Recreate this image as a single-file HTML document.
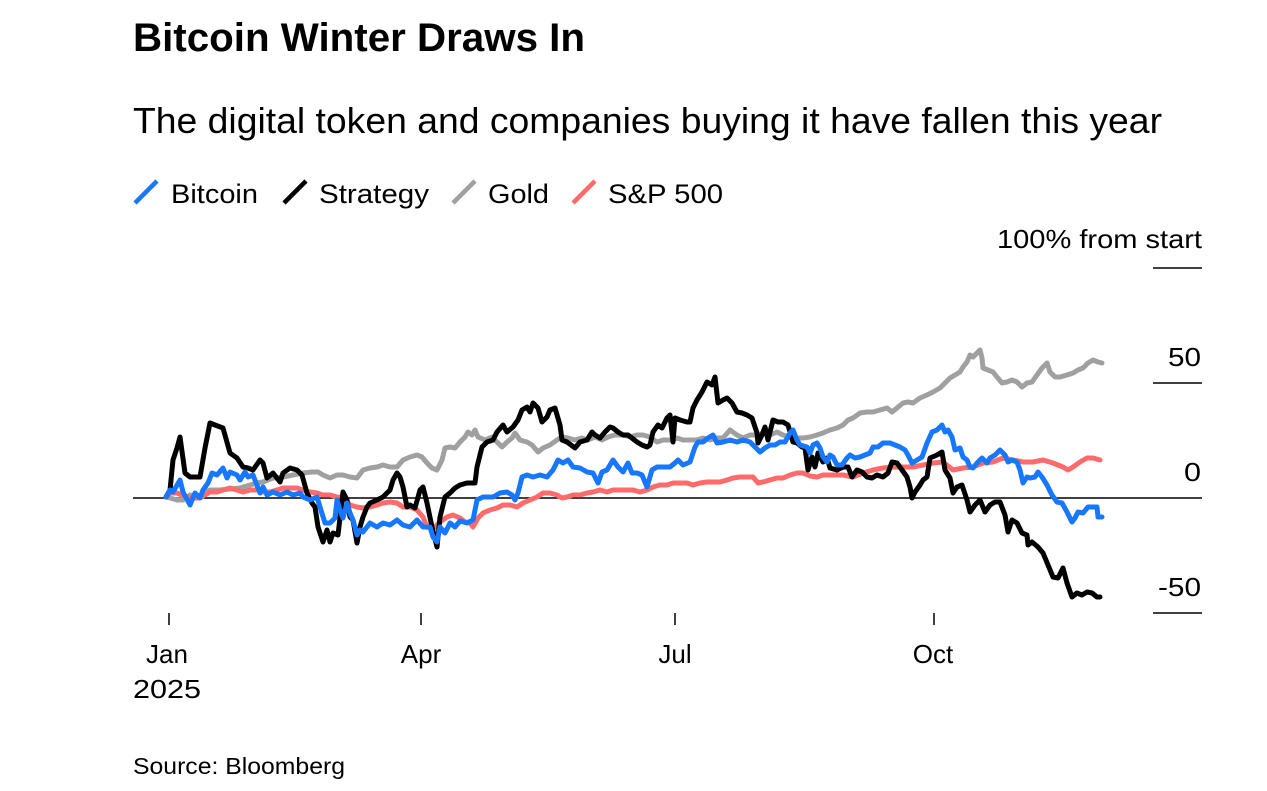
<!DOCTYPE html>
<html><head><meta charset="utf-8"><style>
html,body{margin:0;padding:0;background:#fff;}
svg{display:block;font-family:"Liberation Sans",Arial,sans-serif;}
</style></head><body>
<svg width="1267" height="791" viewBox="0 0 1267 791" xmlns="http://www.w3.org/2000/svg">
<rect width="1267" height="791" fill="#fff"/>
<text x="133" y="51" font-size="40" font-weight="bold" textLength="452" lengthAdjust="spacingAndGlyphs" fill="#000">Bitcoin Winter Draws In</text>
<text x="133" y="133" font-size="36" textLength="1029" lengthAdjust="spacingAndGlyphs" fill="#000">The digital token and companies buying it have fallen this year</text>
<g stroke-width="4.5" stroke-linecap="butt">
<line x1="135" y1="203" x2="157" y2="181" stroke="#1778ff"/>
<line x1="284" y1="203" x2="306" y2="181" stroke="#000"/>
<line x1="453" y1="203" x2="475" y2="181" stroke="#a0a0a0"/>
<line x1="573" y1="203" x2="595" y2="181" stroke="#ff6b6b"/>
</g>
<g font-size="27" fill="#000">
<text x="171" y="203" textLength="87" lengthAdjust="spacingAndGlyphs">Bitcoin</text>
<text x="319" y="203" textLength="110" lengthAdjust="spacingAndGlyphs">Strategy</text>
<text x="488" y="203" textLength="61" lengthAdjust="spacingAndGlyphs">Gold</text>
<text x="608" y="203" textLength="115" lengthAdjust="spacingAndGlyphs">S&amp;P 500</text>
</g>
<g font-size="26" fill="#000">
<text x="997" y="248" textLength="205" lengthAdjust="spacingAndGlyphs">100% from start</text>
<text x="1168" y="366" textLength="33" lengthAdjust="spacingAndGlyphs">50</text>
<text x="1184" y="481" textLength="17" lengthAdjust="spacingAndGlyphs">0</text>
<text x="1158" y="596" textLength="43" lengthAdjust="spacingAndGlyphs">-50</text>
</g>
<g stroke="#000" stroke-width="1.5">
<line x1="1153" y1="268" x2="1202" y2="268"/>
<line x1="1153" y1="383" x2="1202" y2="383"/>
<line x1="1153" y1="613" x2="1202" y2="613"/>
<line x1="133" y1="498" x2="1202" y2="498" stroke-width="1.4"/>
<line x1="169" y1="613" x2="169" y2="625"/>
<line x1="421" y1="613" x2="421" y2="625"/>
<line x1="675" y1="613" x2="675" y2="625"/>
<line x1="934" y1="613" x2="934" y2="625"/>
</g>
<g font-size="26" fill="#000" text-anchor="middle">
<text x="167" y="663">Jan</text>
<text x="421" y="663">Apr</text>
<text x="675" y="663">Jul</text>
<text x="933" y="663">Oct</text>
</g>
<text x="133" y="698" font-size="26" textLength="68" lengthAdjust="spacingAndGlyphs" fill="#000">2025</text>
<text x="133" y="774" font-size="23" textLength="212" lengthAdjust="spacingAndGlyphs" fill="#000">Source: Bloomberg</text>
<g fill="none" stroke-width="5" stroke-linejoin="round" stroke-linecap="round">
<polyline stroke="#a0a0a0" points="166,497 170,498 177,500 183,500 190,495 197,498 203,493 210,490 220,490 230,489 240,488 250,485 257,483 263,482 273,478 283,477 293,475 303,473 312,472 318,472 323,475 330,478 337,475 343,475 350,477 357,478 363,470 370,468 377,467 383,465 390,467 397,467 403,460 410,457 417,455 422,457 427,463 432,468 437,470 442,460 445,448 450,447 455,448 460,442 465,437 468,432 472,435 475,430 478,437 485,440 492,437 497,442 502,447 507,442 512,438 515,433 520,440 527,442 532,445 538,452 543,448 550,445 557,440 562,437 568,438 575,440 582,438 588,440 595,437 602,440 608,437 615,435 623,435 630,437 637,435 643,435 650,437 657,442 663,440 670,440 677,438 683,440 690,440 697,440 703,438 710,440 717,438 723,438 730,430 737,435 743,438 750,435 757,435 763,433 770,435 777,432 783,435 790,437 797,438 803,438 810,437 817,435 823,433 830,430 837,428 843,425 848,420 853,418 860,413 867,412 873,412 880,410 887,408 892,412 897,408 903,403 908,402 913,403 920,398 927,395 933,392 940,388 945,383 950,378 955,375 960,372 963,367 967,362 970,355 973,357 977,353 980,350 982,358 983,368 988,370 993,372 997,377 1002,383 1007,382 1012,380 1017,382 1022,387 1027,383 1032,382 1037,375 1042,368 1047,363 1050,372 1055,377 1060,377 1067,375 1073,373 1078,370 1083,368 1088,363 1093,360 1098,362 1102,363"/>
<polyline stroke="#ff6b6b" points="166,497 170,493 177,493 182,495 187,497 193,498 200,498 205,495 210,492 217,492 223,490 230,488 237,490 243,492 250,490 257,490 263,492 270,492 277,490 283,488 290,488 297,488 303,490 310,492 317,493 323,495 330,495 337,497 343,498 350,505 357,507 363,508 370,507 377,505 383,503 390,502 397,503 403,507 410,507 417,510 423,517 427,527 430,528 435,527 440,522 447,517 453,515 460,518 465,522 470,523 473,527 478,518 483,513 490,510 497,508 503,505 510,505 517,507 523,503 530,500 537,497 543,493 550,493 557,495 562,498 567,497 573,495 580,495 587,493 593,492 600,490 607,492 613,490 620,490 627,490 633,490 640,492 647,490 653,487 660,485 667,485 673,483 680,483 687,483 693,485 700,483 707,482 713,482 720,482 727,480 733,478 740,477 747,477 753,477 758,483 763,482 770,480 777,478 783,478 790,475 797,473 803,473 810,476 817,477 823,475 833,475 843,475 853,477 863,473 873,470 883,468 893,467 903,467 913,467 923,465 933,463 943,462 953,470 963,468 973,467 983,463 993,462 1003,458 1013,460 1023,462 1033,462 1043,460 1053,463 1063,467 1068,470 1073,467 1080,462 1087,458 1093,458 1100,460"/>
<polyline stroke="#000" points="166,497 170,490 173,460 177,448 180,437 185,473 190,477 200,477 205,448 210,423 215,425 223,428 230,453 237,458 243,467 248,468 253,470 260,460 263,463 267,478 273,473 280,482 283,473 290,468 297,470 302,475 307,493 312,503 315,507 318,527 323,542 327,530 330,542 333,533 338,535 343,492 347,500 350,517 353,520 357,543 360,527 363,517 367,507 370,503 377,500 383,497 390,490 393,480 397,473 400,477 403,487 407,507 410,505 415,508 420,490 423,487 427,503 432,527 437,547 440,517 445,497 450,493 455,488 460,485 467,483 475,483 477,467 482,447 487,442 493,440 497,432 503,425 507,432 513,427 518,420 522,410 527,407 530,412 533,403 538,408 542,422 547,417 550,410 555,408 560,425 562,440 567,442 575,448 580,442 587,440 592,432 595,435 600,438 605,432 610,427 613,428 618,432 623,435 628,435 637,442 642,445 647,447 650,445 653,432 658,425 662,428 667,418 670,415 673,442 675,418 680,420 687,422 690,422 693,408 697,400 702,392 707,382 712,385 715,377 718,403 723,400 727,398 732,403 737,412 742,413 747,415 752,418 757,433 758,443 762,435 765,427 768,440 773,420 778,422 783,422 788,425 793,442 797,443 802,447 805,448 808,470 812,457 815,467 818,453 823,462 827,458 830,468 837,470 843,467 848,467 852,477 857,470 862,472 867,477 872,478 877,475 883,477 888,473 892,462 897,463 902,470 907,477 910,487 912,498 915,492 920,485 923,480 927,477 930,458 937,455 942,452 945,470 950,478 953,493 957,487 962,485 967,500 970,512 975,505 980,500 985,512 990,505 995,502 1000,502 1005,515 1008,532 1012,520 1017,523 1022,533 1027,535 1028,545 1032,542 1038,547 1043,553 1048,565 1053,577 1058,578 1063,568 1067,583 1072,597 1077,593 1082,595 1087,592 1092,593 1097,597 1100,597"/>
<polyline stroke="#1778ff" points="166,497 170,490 173,492 180,480 183,492 190,505 195,493 200,498 203,490 208,483 212,473 217,475 223,468 227,478 230,472 237,475 240,480 245,472 248,477 253,475 260,493 263,487 267,495 273,492 280,495 287,492 293,495 300,493 303,497 310,500 317,497 320,507 325,523 330,523 335,518 337,500 340,510 343,518 347,503 350,513 353,520 357,535 360,530 363,532 370,523 377,527 383,523 390,525 397,520 403,525 410,527 417,520 423,527 430,527 433,537 437,542 440,527 445,533 450,523 455,527 460,521 467,523 473,520 477,500 483,497 493,497 500,493 507,492 512,495 515,500 518,493 522,477 527,475 533,477 540,475 547,477 553,470 558,460 563,463 568,460 573,467 580,468 587,472 593,473 598,483 602,472 607,470 613,460 618,467 623,472 628,463 632,473 637,473 642,475 647,487 652,470 657,467 663,467 670,467 675,463 678,460 683,465 690,462 695,447 698,442 703,442 708,438 713,435 717,443 723,442 730,440 737,442 743,440 750,442 755,447 760,452 765,448 770,445 775,445 780,442 785,442 790,433 793,430 797,440 800,445 807,447 810,453 813,445 817,443 820,448 823,457 827,462 830,455 833,457 837,465 842,465 847,458 850,455 855,458 860,457 865,455 870,453 873,447 878,447 883,443 890,443 895,445 900,447 905,450 908,455 912,463 917,460 922,457 927,443 932,432 937,430 942,425 945,432 948,430 952,437 955,450 960,448 963,457 967,460 970,467 973,468 977,463 982,458 987,463 990,458 995,455 1000,450 1005,455 1008,462 1012,460 1017,462 1020,470 1023,483 1027,477 1030,478 1035,477 1038,472 1042,477 1047,485 1052,495 1057,502 1062,503 1067,512 1072,522 1075,518 1078,512 1083,513 1088,507 1093,507 1097,507 1098,517 1102,517"/>
</g>
</svg>
</body></html>
